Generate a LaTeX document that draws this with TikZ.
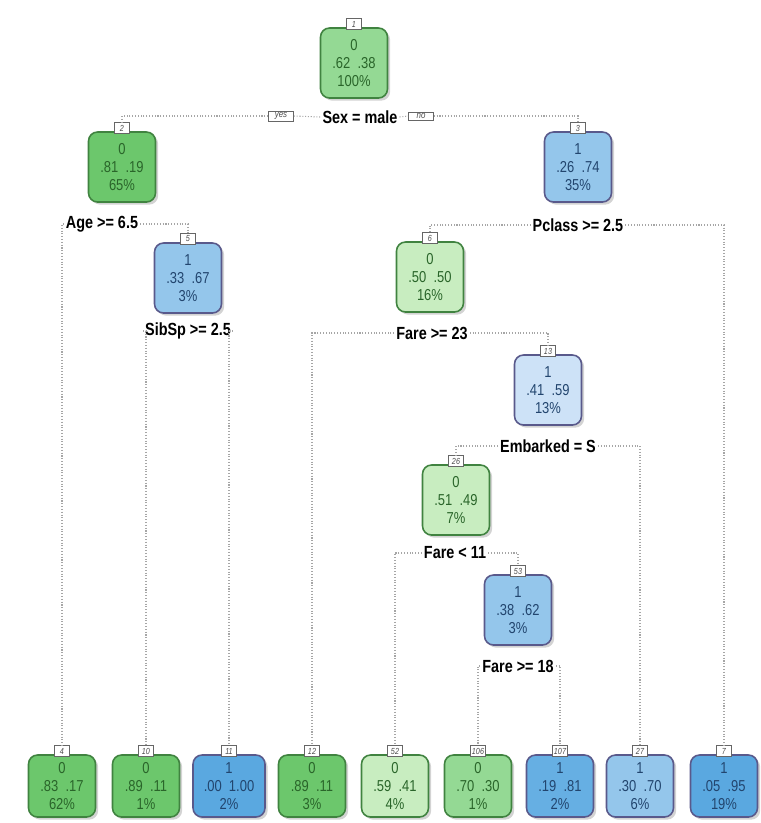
\documentclass[tikz,border=0pt]{standalone}
\usepackage{fontspec}
\setmainfont{Liberation Sans}
\newfontfamily\narrowfont{Liberation Sans}[FakeStretch=0.82]
\usepackage{xcolor}
\usetikzlibrary{shadows}
\definecolor{gdark}{HTML}{6CC76C}
\definecolor{gmid}{HTML}{94D994}
\definecolor{glight}{HTML}{C8EDC0}
\definecolor{bdark}{HTML}{5AA8E0}
\definecolor{bmid}{HTML}{66AFE3}
\definecolor{blight}{HTML}{94C6EB}
\definecolor{bpale}{HTML}{CDE2F7}
\definecolor{gtext}{HTML}{2A652A}
\definecolor{btext}{HTML}{22456E}
\tikzset{
    tree/.style={rectangle, rounded corners=0.18cm, minimum width=1.34cm, minimum height=1.4cm, inner sep=1pt, align=center, line width=0.9pt, font=\narrowfont\fontsize{9}{10.4}\selectfont, drop shadow={shadow xshift=1.5pt, shadow yshift=-1.5pt, fill=gray, opacity=0.35}},
    leaf/.style={tree, minimum height=1.24cm},
    green/.style={draw=green!35!black!75, text=gtext},
    blue/.style={draw=blue!30!black!65, text=btext},
    tab/.style={rectangle, draw=black!60, fill=white, inner sep=0.6pt, minimum width=0.3cm, minimum height=0.22cm, font=\narrowfont\itshape\fontsize{5}{5}\selectfont, text=black!70, anchor=south, yshift=-1.5pt},
    split/.style={font=\narrowfont\bfseries\fontsize{10}{10}\selectfont, inner sep=1pt, fill=white},
    yesno/.style={rectangle, draw=black!60, inner sep=0.8pt, minimum width=0.5cm, font=\narrowfont\itshape\fontsize{5.5}{5.5}\selectfont, text=black!70},
    branch/.style={black!35, densely dotted, line width=0.6pt}
}
\begin{document}
\begin{tikzpicture}[x=0.02cm, y=-0.02cm]
    \useasboundingbox (0,0) rectangle (761,823);

    % Inner nodes
    \node (n1) [tree, green, fill=gmid] at (354,63) {0\\.62\ \ .38\\100\%};
    \node (n2) [tree, green, fill=gdark] at (122,167) {0\\.81\ \ .19\\65\%};
    \node (n3) [tree, blue, fill=blight] at (578,167) {1\\.26\ \ .74\\35\%};
    \node (n5) [tree, blue, fill=blight] at (188,278) {1\\.33\ \ .67\\3\%};
    \node (n6) [tree, green, fill=glight] at (430,277) {0\\.50\ \ .50\\16\%};
    \node (n13) [tree, blue, fill=bpale] at (548,390) {1\\.41\ \ .59\\13\%};
    \node (n26) [tree, green, fill=glight] at (456,500) {0\\.51\ \ .49\\7\%};
    \node (n53) [tree, blue, fill=blight] at (518,610) {1\\.38\ \ .62\\3\%};

    % Leaves
    \node (n4) [leaf, green, fill=gdark] at (62,786) {0\\.83\ \ .17\\62\%};
    \node (n10) [leaf, green, fill=gdark] at (146,786) {0\\.89\ \ .11\\1\%};
    \node (n11) [leaf, blue, fill=bdark, minimum width=1.44cm] at (229,786) {1\\.00\ \ 1.00\\2\%};
    \node (n12) [leaf, green, fill=gdark] at (312,786) {0\\.89\ \ .11\\3\%};
    \node (n52) [leaf, green, fill=glight] at (395,786) {0\\.59\ \ .41\\4\%};
    \node (n106) [leaf, green, fill=gmid] at (478,786) {0\\.70\ \ .30\\1\%};
    \node (n107) [leaf, blue, fill=bmid] at (560,786) {1\\.19\ \ .81\\2\%};
    \node (n27) [leaf, blue, fill=blight] at (640,786) {1\\.30\ \ .70\\6\%};
    \node (n7) [leaf, blue, fill=bdark] at (724,786) {1\\.05\ \ .95\\19\%};

    % Node numbers
    \foreach \n in {1,2,3,5,6,13,26,53,4,10,11,12,52,106,107,27,7}
        \node (t\n) [tab] at (n\n.north) {\n};

    % Split labels
    \node (s1) [split] at (360,117) {Sex = male};
    \node (yes) [yesno] at (281,116) {yes};
    \node (no) [yesno] at (421,116) {no};
    \node (s2) [split] at (102,224) {Age >= 6.5};
    \node (s3) [split] at (578,225) {Pclass >= 2.5};
    \node (s5) [split] at (188,331) {SibSp >= 2.5};
    \node (s6) [split] at (432,333) {Fare >= 23};
    \node (s13) [split] at (548,446) {Embarked = S};
    \node (s26) [split] at (455,553) {Fare < 11};
    \node (s53) [split] at (518,666) {Fare >= 18};

    % Branches
    \draw [branch] (yes.west) -| (t2.north);
    \draw [branch] (yes.east) -- (s1.west);
    \draw [branch] (s1.east) -- (no.west);
    \draw [branch] (no.east) -| (t3.north);
    \draw [branch] (s2.west) -| (t4.north);
    \draw [branch] (s2.east) -| (t5.north);
    \draw [branch] (s3.west) -| (t6.north);
    \draw [branch] (s3.east) -| (t7.north);
    \draw [branch] (s5.west) -| (t10.north);
    \draw [branch] (s5.east) -| (t11.north);
    \draw [branch] (s6.west) -| (t12.north);
    \draw [branch] (s6.east) -| (t13.north);
    \draw [branch] (s13.west) -| (t26.north);
    \draw [branch] (s13.east) -| (t27.north);
    \draw [branch] (s26.west) -| (t52.north);
    \draw [branch] (s26.east) -| (t53.north);
    \draw [branch] (s53.west) -| (t106.north);
    \draw [branch] (s53.east) -| (t107.north);
\end{tikzpicture}
\end{document}
